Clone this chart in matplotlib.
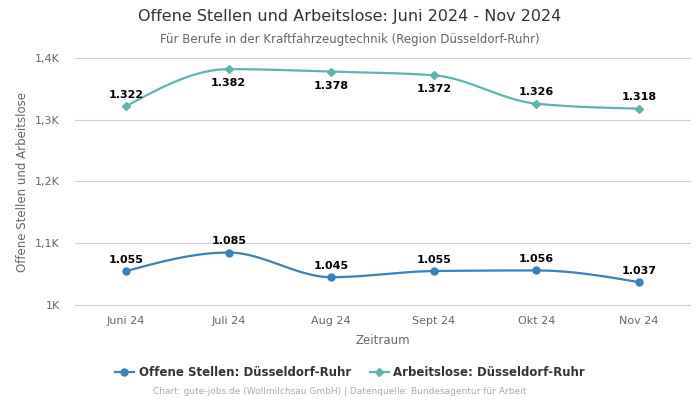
import numpy as np
import matplotlib
matplotlib.use("Agg")
import matplotlib.pyplot as plt
from matplotlib.ticker import FuncFormatter
from matplotlib.lines import Line2D

categories = ["Juni 24", "Juli 24", "Aug 24", "Sept 24", "Okt 24", "Nov 24"]
offene = [1055, 1085, 1045, 1055, 1056, 1037]
arbeitslose = [1322, 1382, 1378, 1372, 1326, 1318]
arb_label_pos = ["above", "below", "below", "below", "above", "above"]
off_label_pos = ["above"] * 6

BLUE = "#3a80b9"
TEAL = "#5cb5ae"


def monotone(x, y, n=40):
    x = np.asarray(x, float); y = np.asarray(y, float)
    h = np.diff(x); d = np.diff(y) / h
    m = np.zeros_like(y)
    for i in range(1, len(y) - 1):
        if d[i - 1] * d[i] <= 0:
            m[i] = 0
        else:
            p = (d[i - 1] * h[i] + d[i] * h[i - 1]) / (h[i - 1] + h[i])
            m[i] = np.sign(p) * min(abs(p), 2 * min(abs(d[i - 1]), abs(d[i])))
    m[0] = (3 * d[0] - m[1]) / 2 if len(y) > 2 else d[0]
    m[-1] = (3 * d[-1] - m[-2]) / 2 if len(y) > 2 else d[-1]
    xs, ys = [], []
    for i in range(len(x) - 1):
        t = np.linspace(0, 1, n)
        h00 = 2 * t**3 - 3 * t**2 + 1
        h10 = t**3 - 2 * t**2 + t
        h01 = -2 * t**3 + 3 * t**2
        h11 = t**3 - t**2
        xs.append(x[i] + t * h[i])
        ys.append(h00 * y[i] + h10 * h[i] * m[i] + h01 * y[i + 1] + h11 * h[i] * m[i + 1])
    return np.concatenate(xs), np.concatenate(ys)


def fmt_de(v):
    return f"{v:,.0f}".replace(",", ".")

fig = plt.figure(figsize=(7, 4), dpi=100)
ax = fig.add_axes([0.107, 0.2375, 0.879, 0.6175])
x = np.arange(len(categories))

for vals, col, mk, ms, pos in [(offene, BLUE, "o", 5, off_label_pos),
                               (arbeitslose, TEAL, "D", 4, arb_label_pos)]:
    sx, sy = monotone(x, vals)
    ax.plot(sx, sy, color=col, lw=1.6, zorder=3)
    ax.plot(x, vals, ls="none", marker=mk, color=col, ms=ms, zorder=4)
    for xi, v, p in zip(x, vals, pos):
        off = 4.5 if p == "above" else -6.5
        ax.annotate(fmt_de(v), (xi, v), xytext=(0, off), textcoords="offset points",
                    ha="center", va="bottom" if p == "above" else "top",
                    fontsize=8, fontweight="bold", color="#000000", zorder=5)

ax.set_xlim(-0.5, 5.5)
ax.set_ylim(1000, 1400)
ax.set_yticks([1000, 1100, 1200, 1300, 1400])
ax.yaxis.set_major_formatter(FuncFormatter(lambda v, p: "1K" if v == 1000 else f"{v/1000:.1f}K".replace(".", ",")))
ax.set_xticks(x)
ax.set_xticklabels(categories)
ax.grid(axis="y", color="#d0d0d0", lw=0.8)
for gl in ax.get_ygridlines():
    gl.set_clip_on(False)
ax.set_axisbelow(True)
for s in ax.spines.values():
    s.set_visible(False)
ax.tick_params(axis="both", length=0, labelsize=8, colors="#666666", pad=8)
ax.tick_params(axis="y", pad=11)
ax.set_xlabel("Zeitraum", fontsize=8.5, color="#666666", labelpad=6)
ax.set_ylabel("Offene Stellen und Arbeitslose", fontsize=8.5, color="#666666", labelpad=4)

fig.text(0.5, 1 - 17 / 400, "Offene Stellen und Arbeitslose: Juni 2024 - Nov 2024",
         ha="center", va="center", fontsize=11.5, color="#333333")
fig.text(0.5, 1 - 39 / 400, "Für Berufe in der Kraftfahrzeugtechnik (Region Düsseldorf-Ruhr)",
         ha="center", va="center", fontsize=8.5, color="#666666")

handles = [Line2D([], [], color=BLUE, marker="o", ms=5, lw=1.6),
           Line2D([], [], color=TEAL, marker="D", ms=4, lw=1.6)]
fig.legend(handles, ["Offene Stellen: Düsseldorf-Ruhr", "Arbeitslose: Düsseldorf-Ruhr"],
           loc="center", bbox_to_anchor=(0.5, 1 - 373 / 400), ncol=2, frameon=False,
           prop={"size": 8.5, "weight": "bold"}, labelcolor="#333333",
           handlelength=1.6, columnspacing=1.6, handletextpad=0.4)
fig.text(340 / 700, 1 - 392 / 400, "Chart: gute-jobs.de (Wollmilchsau GmbH) | Datenquelle: Bundesagentur für Arbeit",
         ha="center", va="center", fontsize=6.5, color="#aaaaaa")

fig.savefig("out.png", dpi=100)
